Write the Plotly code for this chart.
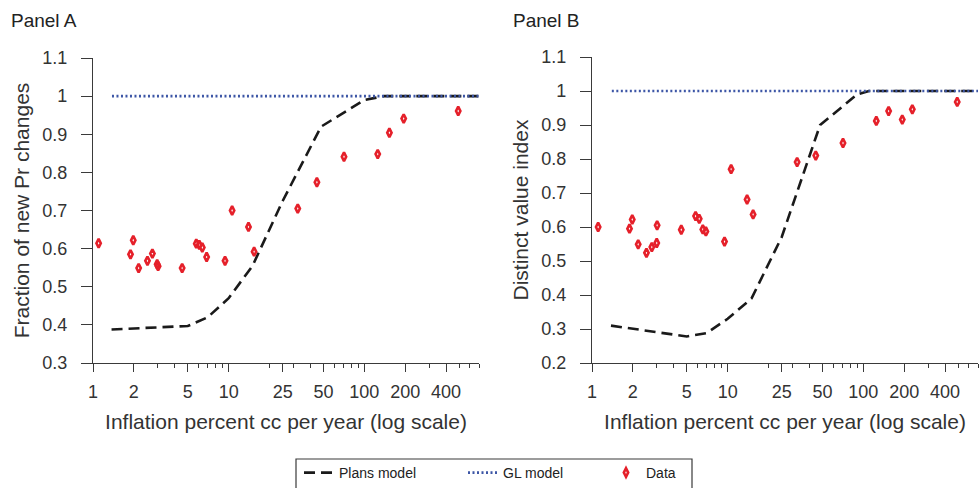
import plotly.graph_objects as go
import math

# ---------------- data ----------------
# Panel A: Fraction of new Pr changes
data_a_x = [1.10, 1.89, 1.98, 2.17, 2.52, 2.74, 2.97, 3.02, 4.54, 5.77, 6.07, 6.39, 6.88,
            9.40, 10.6, 14.0, 15.4, 32.3, 44.7, 70.8, 125.5, 153.0, 195.0, 492.0]
data_a_y = [0.614, 0.585, 0.622, 0.549, 0.568, 0.587, 0.559, 0.554, 0.549, 0.613, 0.610, 0.603, 0.578,
            0.568, 0.700, 0.657, 0.592, 0.705, 0.774, 0.841, 0.848, 0.904, 0.941, 0.961]
plans_a_x = [1.37, 5.0, 7.0, 10.0, 15.0, 25.0, 48.0, 100.0, 140.0, 700.0]
plans_a_y = [0.388, 0.397, 0.420, 0.470, 0.555, 0.725, 0.920, 0.990, 1.0, 1.0]
gl_a_x = [1.38, 700.0]
gl_a_y = [1.0, 1.0]

# Panel B: Distinct value index
data_b_x = [1.11, 1.89, 1.98, 2.19, 2.52, 2.76, 3.00, 3.02, 4.55, 5.80, 6.17, 6.56, 6.91,
            9.48, 10.6, 13.9, 15.4, 32.5, 44.6, 70.8, 124.6, 153.6, 193.6, 229.6, 492.0]
data_b_y = [0.600, 0.595, 0.622, 0.549, 0.524, 0.541, 0.553, 0.605, 0.592, 0.632, 0.624, 0.593, 0.587,
            0.557, 0.770, 0.681, 0.637, 0.791, 0.810, 0.847, 0.912, 0.941, 0.916, 0.946, 0.968]
plans_b_x = [1.38, 5.0, 7.0, 10.0, 15.0, 25.0, 48.0, 90.0, 110.0, 700.0]
plans_b_y = [0.310, 0.278, 0.288, 0.330, 0.390, 0.570, 0.900, 0.990, 1.0, 1.0]
gl_b_x = [1.40, 700.0]
gl_b_y = [1.0, 1.0]

x_major = [1, 2, 5, 10, 25, 50, 100, 200, 400]
x_minor = [3, 4, 6, 7, 8, 9, 20, 30, 40, 60, 70, 80, 90, 300, 500, 600, 700]
ya_ticks = [0.3, 0.4, 0.5, 0.6, 0.7, 0.8, 0.9, 1.0, 1.1]
yb_ticks = [0.2, 0.3, 0.4, 0.5, 0.6, 0.7, 0.8, 0.9, 1.0, 1.1]

def fmt(v):
    s = ("%.1f" % v)
    return "1" if s == "1.0" else s

# ---------------- styles ----------------
W, H = 980, 488
FONT = "Liberation Sans, Arial, Helvetica, sans-serif"
AX = "#3a3a3a"
RED = "#e5202a"
BLUE = "#3d56a6"
BLACK = "#1a1a1a"

def px_x(p):
    return p / W

def px_y(p):
    return 1 - p / H

fig = go.Figure()

panels = [
    ("x", "y", plans_a_x, plans_a_y, gl_a_x, gl_a_y, data_a_x, data_a_y),
    ("x2", "y2", plans_b_x, plans_b_y, gl_b_x, gl_b_y, data_b_x, data_b_y),
]
for i, (xa, ya, px_, py_, gx, gy, dx, dy) in enumerate(panels):
    first = i == 0
    fig.add_trace(go.Scatter(x=px_, y=py_, xaxis=xa, yaxis=ya, mode="lines",
                             name="Plans model", showlegend=first, legend="legend",
                             line=dict(color=BLACK, width=2.6, dash="11px,6px")))
    fig.add_trace(go.Scatter(x=gx, y=gy, xaxis=xa, yaxis=ya, mode="lines",
                             name="GL model", showlegend=first, legend="legend2",
                             line=dict(color=BLUE, width=2.6, dash="2px,2.5px")))
    fig.add_trace(go.Scatter(x=dx, y=dy, xaxis=xa, yaxis=ya, mode="markers",
                             name="Data", showlegend=first, legend="legend3",
                             marker=dict(symbol="diamond-tall-open", size=6.2, color=RED,
                                         line=dict(color=RED, width=2.6))))

common_x = dict(type="log", range=[0, math.log10(700)], showline=True, linecolor=AX, linewidth=1.3,
                showgrid=False, zeroline=False, ticks="outside", ticklen=8, tickwidth=1.3,
                tickcolor=AX, tickmode="array", tickvals=x_major, ticktext=[str(v) for v in x_major],
                tickfont=dict(family=FONT, size=18, color="#333333"), automargin=False,
                minor=dict(tickmode="array", tickvals=x_minor, ticks="outside", ticklen=4,
                           tickwidth=1.3, tickcolor=AX, showgrid=False),
                ticklabelstandoff=4,
                title=dict(text="Inflation percent cc per year (log scale)",
                           font=dict(family=FONT, size=21, color="#333333"), standoff=13))

common_y = dict(showline=True, linecolor=AX, linewidth=1.3, showgrid=False, zeroline=False,
                ticks="outside", ticklen=11, tickwidth=1.3, tickcolor=AX, tickmode="array",
                tickfont=dict(family=FONT, size=18, color="#333333"), ticklabelstandoff=10,
                automargin=False,
                title=dict(font=dict(family=FONT, size=21, color="#333333"), standoff=6))

fig.update_layout(
    width=W, height=H, margin=dict(l=0, r=0, t=0, b=0, autoexpand=False),
    paper_bgcolor="white", plot_bgcolor="white",
    font=dict(family=FONT, color="#333333"),
    xaxis=dict(common_x, domain=[px_x(93), px_x(479)], anchor="y"),
    xaxis2=dict(common_x, domain=[px_x(592), px_x(978)], anchor="y2"),
    yaxis=dict(common_y, domain=[px_y(363), px_y(58)], anchor="x", range=[0.3, 1.1],
               tickvals=ya_ticks, ticktext=[fmt(v) for v in ya_ticks]),
    yaxis2=dict(common_y, domain=[px_y(363), px_y(57)], anchor="x2", range=[0.2, 1.1],
                tickvals=yb_ticks, ticktext=[fmt(v) for v in yb_ticks]),
    showlegend=True,
)
fig.layout.yaxis.title.text = "Fraction of new Pr changes"
fig.layout.yaxis2.title.text = "Distinct value index"

leg_common = dict(orientation="h", yanchor="top", xanchor="left", bgcolor="rgba(0,0,0,0)",
                  borderwidth=0, xref="container", yref="container",
                  font=dict(family=FONT, size=14, color="#222222"))
fig.update_layout(
    legend=dict(leg_common, x=px_x(299), y=px_y(457)),
    legend2=dict(leg_common, x=px_x(463), y=px_y(457)),
    legend3=dict(leg_common, x=px_x(606), y=px_y(457)),
)

fig.add_shape(type="rect", xref="paper", yref="paper",
              x0=px_x(296), x1=px_x(692), y0=px_y(500), y1=px_y(459),
              line=dict(color=AX, width=1.2), fillcolor="rgba(0,0,0,0)")

fig.add_annotation(text="Panel A", xref="paper", yref="paper", x=px_x(9), y=px_y(20),
                   xanchor="left", yanchor="middle", showarrow=False,
                   font=dict(family=FONT, size=19, color="#222222"))
fig.add_annotation(text="Panel B", xref="paper", yref="paper", x=px_x(511), y=px_y(20),
                   xanchor="left", yanchor="middle", showarrow=False,
                   font=dict(family=FONT, size=19, color="#222222"))

fig.write_html("out.html")
